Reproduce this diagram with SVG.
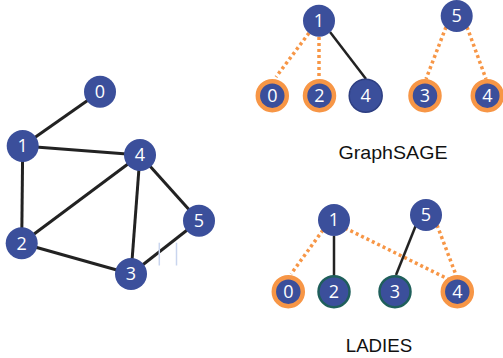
<svg xmlns="http://www.w3.org/2000/svg" width="503" height="358" viewBox="0 0 503 358">
<style>
.n{fill:#3B4F9B}
.o{fill:#3B4F9B;stroke:#F79646;stroke-width:4.5}
.d{fill:#3B4F9B;stroke:#2E3F82;stroke-width:1.5}
.t{fill:#3B4F9B;stroke:#1F5F5B;stroke-width:2.5}
.l{fill:#fff;font-family:"Open Sans","Liberation Sans",Arial,sans-serif;font-size:18px;text-anchor:middle}
.cap{fill:#111;font-family:"Liberation Sans",Arial,sans-serif;font-size:18.5px;text-anchor:middle}
.e{stroke:#222;stroke-width:3;fill:none}
.s{stroke:#222;stroke-width:2.5;fill:none}
.dot{stroke:#F79646;stroke-width:3.5;stroke-dasharray:3 3;fill:none}
</style>
<rect width="503" height="358" fill="#fff"/>
<g id="connectors">
<line class="e" x1="22.7" y1="146" x2="100" y2="91.7"/>
<line class="e" x1="22.7" y1="146" x2="140" y2="155"/>
<line class="e" x1="22.7" y1="146" x2="21.7" y2="243.3"/>
<line class="e" x1="140" y1="155" x2="21.7" y2="243.3"/>
<line class="e" x1="140" y1="155" x2="131" y2="274"/>
<line class="e" x1="140" y1="155" x2="199" y2="220.7"/>
<line class="e" x1="21.7" y1="243.3" x2="131" y2="274"/>
<line class="e" x1="199" y1="220.7" x2="131" y2="274"/>
<line x1="159.3" y1="242.7" x2="159.3" y2="265.5" stroke="#C9D5EE" stroke-width="1.5"/>
<line x1="176.5" y1="242.7" x2="176.5" y2="265.5" stroke="#C9D5EE" stroke-width="1.5"/>
<line class="dot" x1="309" y1="33" x2="276" y2="77"/>
<line class="dot" x1="319" y1="37" x2="319" y2="79"/>
<line class="s" x1="330" y1="32" x2="366" y2="79"/>
<line class="dot" x1="446" y1="27" x2="426" y2="79"/>
<line class="dot" x1="467" y1="27" x2="486" y2="79"/>
<line class="dot" x1="323" y1="230" x2="291" y2="274"/>
<line class="s" x1="334" y1="236" x2="334" y2="276"/>
<line class="dot" x1="345" y1="228" x2="448" y2="279"/>
<line class="s" x1="416" y1="225" x2="396" y2="275"/>
<line class="dot" x1="437" y1="225" x2="456" y2="275"/>
</g>
<g id="g-0"><circle class="n" cx="100" cy="91.7" r="16"/><text class="l" x="100" y="98">0</text></g>
<g id="g-1"><circle class="n" cx="22.7" cy="146" r="16"/><text class="l" x="22.7" y="152.3">1</text></g>
<g id="g-4"><circle class="n" cx="140" cy="155" r="16"/><text class="l" x="140" y="161.3">4</text></g>
<g id="g-5"><circle class="n" cx="199" cy="220.7" r="16"/><text class="l" x="199" y="227">5</text></g>
<g id="g-2"><circle class="n" cx="21.7" cy="243.3" r="16"/><text class="l" x="21.7" y="249.6">2</text></g>
<g id="g-3"><circle class="n" cx="131" cy="274" r="16"/><text class="l" x="131" y="280.3">3</text></g>
<g id="s-1"><circle class="n" cx="319" cy="20.7" r="16"/><text class="l" x="319" y="27">1</text></g>
<g id="s-0"><circle class="o" cx="272.3" cy="95.7" r="14.5"/><text class="l" x="272.3" y="102">0</text></g>
<g id="s-2"><circle class="o" cx="319.5" cy="95.7" r="14.5"/><text class="l" x="319.5" y="102">2</text></g>
<g id="s-4a"><circle class="d" cx="365.7" cy="95.7" r="16.5"/><text class="l" x="365.7" y="102">4</text></g>
<g id="s-5"><circle class="n" cx="456.7" cy="16" r="16"/><text class="l" x="456.7" y="22.3">5</text></g>
<g id="s-3"><circle class="o" cx="425" cy="95.7" r="14.5"/><text class="l" x="425" y="102">3</text></g>
<g id="s-4b"><circle class="o" cx="487.3" cy="95.7" r="14.5"/><text class="l" x="487.3" y="102">4</text></g>
<g id="label-graphsage"><text class="cap" x="393" y="159" textLength="109" lengthAdjust="spacingAndGlyphs">GraphSAGE</text></g>
<g id="l-1"><circle class="n" cx="334" cy="220" r="16"/><text class="l" x="334" y="226.3">1</text></g>
<g id="l-5"><circle class="n" cx="426" cy="215" r="16"/><text class="l" x="426" y="221.3">5</text></g>
<g id="l-0"><circle class="o" cx="288.3" cy="291.7" r="14.5"/><text class="l" x="288.3" y="298">0</text></g>
<g id="l-2"><circle class="t" cx="334" cy="291.7" r="15.5"/><text class="l" x="334" y="298">2</text></g>
<g id="l-3"><circle class="t" cx="395" cy="291.7" r="15.5"/><text class="l" x="395" y="298">3</text></g>
<g id="l-4"><circle class="o" cx="457.3" cy="291.7" r="14.5"/><text class="l" x="457.3" y="298">4</text></g>
<g id="label-ladies"><text class="cap" x="379" y="351.5" textLength="66.5" lengthAdjust="spacingAndGlyphs">LADIES</text></g>
</svg>
